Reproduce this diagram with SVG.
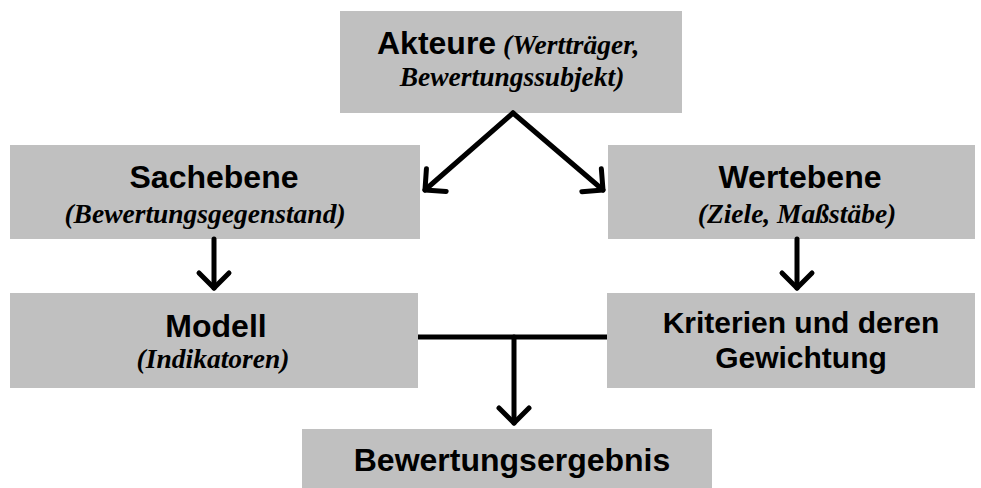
<svg xmlns="http://www.w3.org/2000/svg" width="981" height="488" viewBox="0 0 981 488">
<style>
.box{fill:#c0c0c0}
.h{font-family:"Liberation Sans",Arial,sans-serif;font-weight:bold;font-size:32px;fill:#000;text-anchor:middle}
.s{font-family:"Liberation Serif","Times New Roman",serif;font-weight:bold;font-style:italic;font-size:27.5px;fill:#000;text-anchor:middle}
.k{font-family:"Liberation Sans",Arial,sans-serif;font-weight:bold;font-size:30px;fill:#000;text-anchor:middle}
.c{stroke:#000;stroke-width:5;fill:none;stroke-linecap:round;stroke-linejoin:round}
</style>
<defs>
<marker id="ah" markerUnits="userSpaceOnUse" viewBox="-20 -20 24 40" refX="0" refY="0" markerWidth="24" markerHeight="40" orient="auto" overflow="visible">
<path d="M-15,-15 L0,0 L-15,15" fill="none" stroke="#000" stroke-width="5" stroke-linecap="round" stroke-linejoin="round"/>
</marker>
</defs>
<g id="akteure">
<rect class="box" x="340" y="11" width="342" height="102"/>
<text x="511" y="54"><tspan class="h" style="text-anchor:start" x="377">Akteure</tspan><tspan class="s" style="text-anchor:start"> (Wertträger,</tspan></text>
<text class="s" x="512" y="86">Bewertungssubjekt)</text>
</g>
<g id="sachebene">
<rect class="box" x="10" y="145" width="410" height="94"/>
<text class="h" x="214" y="188">Sachebene</text>
<text class="s" x="205" y="223">(Bewertungsgegenstand)</text>
</g>
<g id="wertebene">
<rect class="box" x="608" y="145" width="367" height="94"/>
<text class="h" x="800" y="188">Wertebene</text>
<text class="s" x="797" y="223">(Ziele, Maßstäbe)</text>
</g>
<g id="modell">
<rect class="box" x="10" y="293" width="408" height="95"/>
<text class="h" x="216" y="337">Modell</text>
<text class="s" x="213" y="368">(Indikatoren)</text>
</g>
<g id="kriterien">
<rect class="box" x="607" y="293" width="368" height="95"/>
<text class="k" x="801" y="333">Kriterien und deren</text>
<text class="k" x="801" y="368">Gewichtung</text>
</g>
<g id="ergebnis">
<rect class="box" x="302" y="429" width="410" height="59"/>
<text class="h" x="512" y="471">Bewertungsergebnis</text>
</g>
<g id="connectors">
<path class="c" d="M513,113 L425,190" marker-end="url(#ah)"/>
<path class="c" d="M513,113 L603,190" marker-end="url(#ah)"/>
<path class="c" d="M214,239 L214,288" marker-end="url(#ah)"/>
<path class="c" d="M797,239 L797,288" marker-end="url(#ah)"/>
<path class="c" d="M418,337 L607,337" style="stroke-linecap:butt"/>
<path class="c" d="M514,337 L514,423" marker-end="url(#ah)"/>
</g>
</svg>
